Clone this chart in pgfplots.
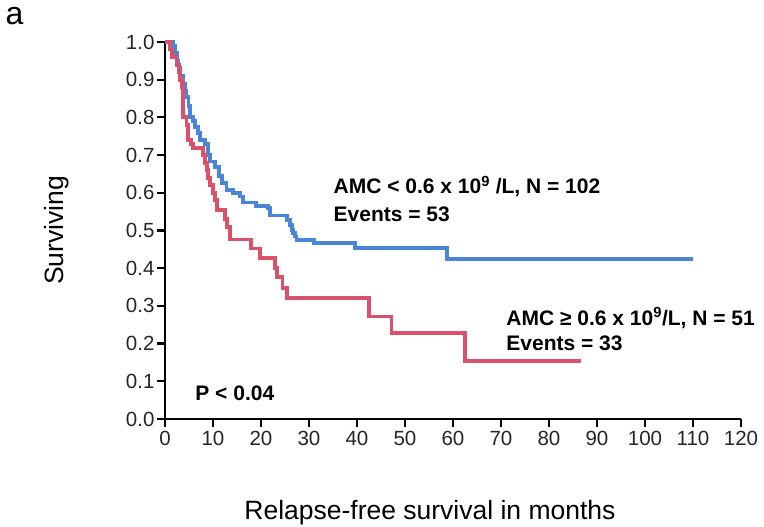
\documentclass[border=0pt]{standalone}
\usepackage{pgfplots}
\pgfplotsset{compat=1.18}
\usepackage{fontspec}
\setmainfont{Liberation Sans}
\definecolor{kmblue}{RGB}{74,134,216}
\definecolor{kmred}{RGB}{218,82,106}

% AMC < 0.6 (blue): time in months, survival from that time on
\pgfplotstableread{
t S
0 1.000
1.7 0.990
2.1 0.970
2.5 0.950
2.8 0.930
3.1 0.910
3.8 0.890
4.2 0.870
4.5 0.855
4.9 0.830
5.2 0.800
5.9 0.790
6.25 0.775
6.9 0.758
7.3 0.740
8.3 0.730
9.0 0.700
9.4 0.683
10.4 0.669
11.2 0.645
11.8 0.625
12.8 0.607
14.2 0.599
15.6 0.590
16.3 0.574
19.0 0.566
21.5 0.559
21.9 0.540
25.4 0.528
26.0 0.515
26.4 0.501
26.7 0.493
27.1 0.484
27.4 0.475
31.0 0.466
39.6 0.453
58.8 0.424
110 0.424
}\lowamc

% AMC >= 0.6 (red)
\pgfplotstableread{
t S
0 1.000
1.0 0.980
1.5 0.960
2.4 0.940
2.9 0.920
3.2 0.900
3.5 0.880
3.8 0.800
4.5 0.780
4.8 0.740
5.5 0.730
5.9 0.718
8.0 0.700
8.3 0.680
8.7 0.660
9.0 0.640
9.4 0.620
10.0 0.600
10.4 0.580
10.8 0.554
12.5 0.530
13.0 0.510
13.5 0.476
18.0 0.452
19.8 0.427
22.9 0.400
23.3 0.377
24.5 0.347
25.5 0.320
42.5 0.272
47.2 0.228
62.5 0.154
86.7 0.154
}\highamc

\begin{document}
\begin{tikzpicture}
\path[use as bounding box] (-165pt,-108pt) rectangle (599pt,419pt);
\begin{axis}[
  scale only axis, width=576pt, height=377pt,
  xmin=0, xmax=120, ymin=0, ymax=1,
  clip=false,
  axis x line*=bottom, axis y line*=left,
  axis line style={line width=2.2pt, -},
  xtick={0,10,20,30,40,50,60,70,80,90,100,110,120},
  ytick={0,0.1,0.2,0.3,0.4,0.5,0.6,0.7,0.8,0.9,1.0},
  tick style={line width=2.2pt, black},
  tick align=outside, major tick length=8pt,
  tick label style={font=\fontsize{20.5}{22}\selectfont, text=black!85},
  xticklabel style={yshift=-1pt},
  yticklabel style={xshift=1pt, /pgf/number format/.cd, fixed, fixed zerofill, precision=1},
  /pgf/number format/assume math mode=true,
  xlabel={Relapse-free survival in months},
  xlabel style={font=\fontsize{26.5}{30}\selectfont, at={(axis description cs:0.46,0)}, anchor=base, yshift=-101pt},
  ylabel={Surviving},
  ylabel style={font=\fontsize{26.5}{30}\selectfont, at={(axis description cs:0,0.5)}, anchor=center, yshift=108pt},
]
\addplot[const plot, kmblue, line width=3.8pt] table[x=t, y=S] {\lowamc};
\addplot[const plot, kmred, line width=3.8pt] table[x=t, y=S] {\highamc};

\node[anchor=base west, font=\bfseries\fontsize{21}{24}\selectfont] at (axis cs:34.4,0.597) {AMC < 0.6 x 10\textsuperscript{9} /L, N = 102};
\node[anchor=base west, font=\bfseries\fontsize{21}{24}\selectfont] at (axis cs:34.4,0.525) {Events = 53};
\node[anchor=base west, font=\bfseries\fontsize{21}{24}\selectfont] at (axis cs:70.4,0.249) {AMC ≥ 0.6 x 10\textsuperscript{9}/L, N = 51};
\node[anchor=base west, font=\bfseries\fontsize{21}{24}\selectfont] at (axis cs:70.4,0.183) {Events = 33};
\node[anchor=base west, font=\bfseries\fontsize{21}{24}\selectfont] at (axis cs:5.6,0.05) {P < 0.04};
\end{axis}
\node[anchor=base west, font=\fontsize{32}{36}\selectfont] at (-163pt,394pt) {a};
\end{tikzpicture}
\end{document}
